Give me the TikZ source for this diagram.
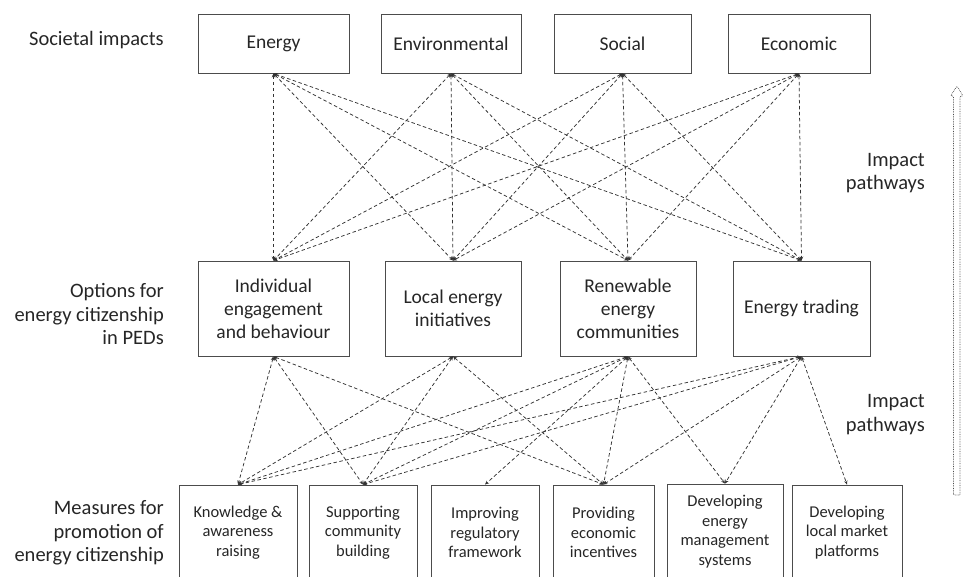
\documentclass[tikz,border=0pt]{standalone}
\usepackage{fontspec}
\setmainfont{Carlito}
\usepackage{tikz}
\usetikzlibrary{arrows.meta}

\begin{document}
\begin{tikzpicture}[x=1pt,y=-1pt,
    box/.style={draw=black!70, line width=0.9pt, text=black!85, align=center, inner sep=1pt, font=\fontsize{19.5}{23}\selectfont},
    mbox/.style={box, minimum height=95pt, font=\fontsize{16.5}{19.5}\selectfont},
    side/.style={anchor=east, align=right, inner sep=0pt, text=black!85, font=\fontsize{20.5}{23.5}\selectfont},
    link/.style={black!80, line width=0.75pt, dash pattern=on 3.5pt off 2.5pt, {Stealth[length=4pt,width=3.5pt]}-{Stealth[length=4pt,width=3.5pt]}}]
    \useasboundingbox (0,0) rectangle (963,576);
    \clip (0,0) rectangle (963,576);
    % level labels
    \node[side] (L1) at (164,40) {Societal impacts};
    \node[side] (L2) at (164,314) {Options for\\energy citizenship\\in PEDs};
    \node[side] (L3) at (164,533) {Measures for\\promotion of\\energy citizenship};
    \node[side] (P1) at (925,173) {Impact\\pathways};
    \node[side] (P2) at (925,414.5) {Impact\\pathways};
    % societal impacts
    \node[box, minimum width=151pt, minimum height=59pt] (I1) at (273.5,43.5) {Energy};
    \node[box, minimum width=140pt, minimum height=59pt] (I2) at (451,43.5) {Environmental};
    \node[box, minimum width=137pt, minimum height=59pt] (I3) at (622.5,43.5) {Social};
    \node[box, minimum width=142pt, minimum height=59pt] (I4) at (799,43.5) {Economic};
    % options
    \node[box, minimum width=151pt, minimum height=95pt] (O1) at (273.5,308.5) {Individual\\engagement\\and behaviour};
    \node[box, minimum width=136pt, minimum height=95pt] (O2) at (453,308.5) {Local energy\\initiatives};
    \node[box, minimum width=136pt, minimum height=95pt] (O3) at (628,308.5) {Renewable\\energy\\communities};
    \node[box, minimum width=137pt, minimum height=95pt] (O4) at (801.5,308.5) {Energy trading};
    % measures
    \node[mbox, minimum width=118pt] (M1) at (238,532.5) {Knowledge \&\\awareness\\raising};
    \node[mbox, minimum width=108pt] (M2) at (363,532.5) {Supporting\\community\\building};
    \node[mbox, minimum width=108pt] (M3) at (485,532.5) {Improving\\regulatory\\framework};
    \node[mbox, minimum width=101pt] (M4) at (603.5,532.5) {Providing\\economic\\incentives};
    \node[mbox, minimum width=116pt] (M5) at (725,531.5) {Developing\\energy\\management\\systems};
    \node[mbox, minimum width=110pt] (M6) at (847,532.5) {Developing\\local market\\platforms};
    % pathways
    \foreach \i in {1,...,4}
        \foreach \o in {1,...,4}
            \draw[link] (I\i.south) -- (O\o.north);
    \foreach \o/\m in {1/1,1/2,1/4,2/1,2/2,2/4,3/1,3/2,3/3,3/4,3/5,4/1,4/2,4/4,4/5,4/6}
        \draw[link] (O\o.south) -- (M\m.north);
    % overall direction
    \draw[black!70, densely dotted, line width=0.7pt, rounded corners=1pt] (953.5,495) -- (953.5,96) -- (950.5,96) -- (957,86) -- (963,96) -- (960,96) -- (960,495) -- cycle;
\end{tikzpicture}
\end{document}
